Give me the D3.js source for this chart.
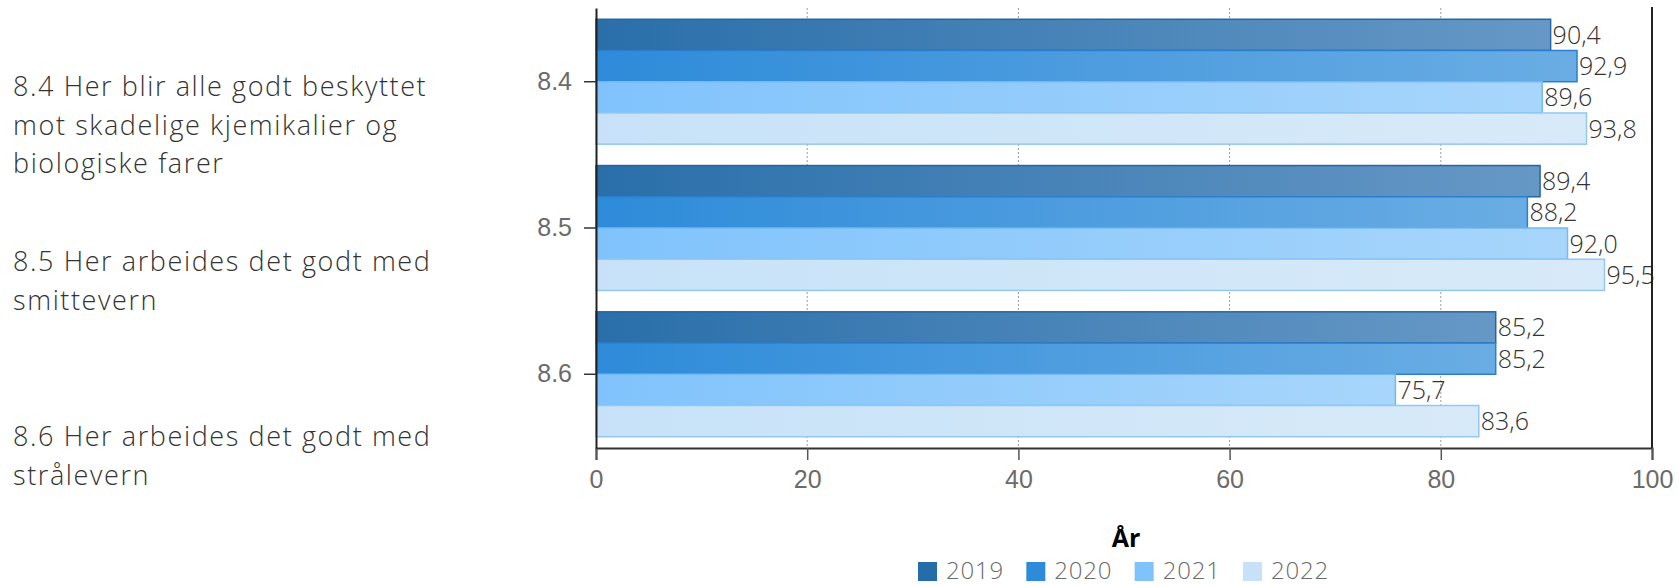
<!DOCTYPE html>
<html>
<head>
<meta charset="utf-8">
<script src="https://cdn.jsdelivr.net/npm/d3@7"></script>
<style>
  body { margin: 0; background: #fff; }
  svg { font-family: "Open Sans", Lato, sans-serif; font-weight: 300; }
</style>
</head>
<body>
<div class="content"></div>
<script>
var categories = ["8.4", "8.5", "8.6"];
var categoryLines = [
	["8.4 Her blir alle godt beskyttet", "mot skadelige kjemikalier og", "biologiske farer"],
	["8.5 Her arbeides det godt med", "smittevern"],
	["8.6 Her arbeides det godt med", "strålevern"]
];
var years = ["2019", "2020", "2021", "2022"];
var v2019 = [90.4, 89.4, 85.2];
var v2020 = [92.9, 88.2, 85.2];
var v2021 = [89.6, 92.0, 75.7];
var v2022 = [93.8, 95.5, 83.6];
var xTicks = [0, 20, 40, 60, 80, 100];

var series = [v2019, v2020, v2021, v2022];
var colLeft = ["#2a6faa", "#2e8bd9", "#80c3fc", "#c7e2f8"];
var colRight = ["#6698c6", "#6aade4", "#a8d6fb", "#d8eaf9"];
var colStroke = ["#2566a2", "#2c7fcc", "#72b9f5", "#93c8f3"];
var colLegend = ["#256da8", "#2e8bd9", "#7fc2fc", "#c7e2f8"];

var W = 1679, H = 586;
var margin = {top: 8, left: 596, right: 27, bottom: 138};
var width = W - margin.left - margin.right,
    height = H - margin.top - margin.bottom;

var svg = d3.select('.content').append("svg").attr("width", W).attr("height", H);

var defs = svg.append("defs");
years.forEach(function(y, i) {
	var g = defs.append("linearGradient").attr("id", "grad" + i)
		.attr("x1", "0%").attr("x2", "100%").attr("y1", "0%").attr("y2", "0%");
	g.append("stop").attr("offset", "0%").attr("stop-color", colLeft[i]);
	g.append("stop").attr("offset", "100%").attr("stop-color", colRight[i]);
});

var x = d3.scaleLinear().domain([0, 100]).range([0, width]);
var y0 = d3.scaleBand().domain(categories).range([0, height]).paddingInner(0.146).paddingOuter(0.077);
var y1 = d3.scaleBand().domain(years).range([0, y0.bandwidth()]);

var ctrl = svg.append("g").attr("transform", "translate(" + margin.left + "," + margin.top + ")");

// dotted grid
ctrl.append("g").selectAll("line").data(xTicks.slice(1, -1)).enter().append("line")
	.attr("x1", function(d){return x(d);}).attr("x2", function(d){return x(d);})
	.attr("y1", 0).attr("y2", height)
	.attr("stroke", "#9a9a9a").attr("stroke-dasharray", "2,2").attr("stroke-width", 1);

// bars
var groups = ctrl.append("g").selectAll("g").data(categories).enter().append("g")
	.attr("transform", function(d){return "translate(0," + y0(d) + ")";});

groups.each(function(c, ci) {
	var gg = d3.select(this);
	years.forEach(function(yr, si) {
		var v = series[si][ci];
		gg.append("rect")
			.attr("x", x(0)).attr("y", y1(yr))
			.attr("width", x(v) - x(0)).attr("height", y1.bandwidth())
			.attr("fill", "url(#grad" + si + ")")
			.attr("stroke", colStroke[si]).attr("stroke-width", 1.5);
		gg.append("text")
			.attr("x", x(v) + 2).attr("y", y1(yr) + y1.bandwidth() / 2)
			.attr("dy", "0.36em")
			.attr("font-size", 25).attr("fill", "#333")
			.text(d3.format(".1f")(v).replace(".", ","));
	});
});

// right border line
ctrl.append("line").attr("x1", x(100)).attr("x2", x(100)).attr("y1", -1).attr("y2", height)
	.attr("stroke", "#222").attr("stroke-width", 2);

// axes
var xAxis = ctrl.append("g").attr("transform", "translate(0," + height + ")")
	.call(d3.axisBottom(x).tickValues(xTicks).tickSize(12).tickPadding(10).tickFormat(d3.format("d")));
xAxis.select(".domain").attr("stroke", "#333").attr("stroke-width", 2);
xAxis.selectAll(".tick line").attr("stroke", "#555").attr("stroke-width", 1.5);
xAxis.selectAll(".tick text").attr("font-size", 25).attr("fill", "#6b6b6b").attr("font-family", null);

var yAxis = ctrl.append("g")
	.call(d3.axisLeft(y0).tickSize(12).tickPadding(12).tickSizeOuter(0));
yAxis.select(".domain").attr("stroke", "#222").attr("stroke-width", 2);
yAxis.selectAll(".tick line").attr("stroke", "#333").attr("stroke-width", 1.5);
yAxis.selectAll(".tick text").attr("font-size", 25).attr("fill", "#6b6b6b").attr("font-family", null);

// category labels column on the left
var rowScale = d3.scaleLinear().domain([0, 1]).range([96, 271]);
var labs = svg.append("g").selectAll("text").data(categoryLines).enter().append("text")
	.attr("x", 13).attr("y", function(d, i){return rowScale(i);})
	.attr("font-size", 27).attr("letter-spacing", 1.6).attr("fill", "#333");
labs.each(function(lines) {
	var t = d3.select(this);
	lines.forEach(function(l, li) {
		t.append("tspan").attr("x", 13).attr("dy", li === 0 ? 0 : 38.7).text(l);
	});
});

// legend
var cx = margin.left + width / 2;
svg.append("text").attr("x", cx + 2).attr("y", 547).attr("text-anchor", "middle")
	.attr("font-size", 25).attr("font-weight", "bold").attr("fill", "#000").text("År");

var legX = d3.scalePoint().domain(years).range([918, 1243]);
var leg = svg.append("g").selectAll("g").data(years).enter().append("g")
	.attr("transform", function(d){return "translate(" + legX(d) + ",0)";});
leg.append("rect").attr("x", 0).attr("y", 562).attr("width", 19).attr("height", 19)
	.attr("fill", function(d, i){return colLegend[i];});
leg.append("text").attr("x", 28).attr("y", 579).attr("font-size", 24).attr("letter-spacing", 0.8)
	.attr("fill", "#6b6b6b")
	.text(function(d){return d;});
</script>
</body>
</html>
